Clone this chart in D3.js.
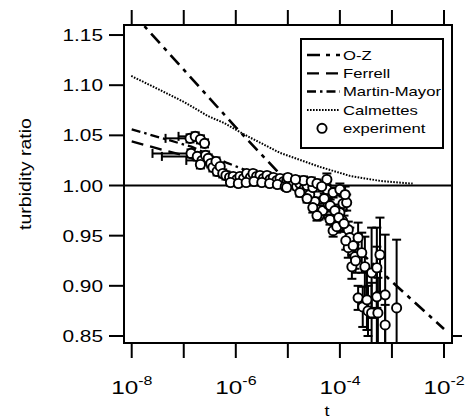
<!DOCTYPE html>
<html><head><meta charset="utf-8">
<script src="https://cdn.jsdelivr.net/npm/d3@7"></script>
<style>body{margin:0;background:#fff}svg{display:block}text{font-family:"Liberation Sans",Arial,sans-serif;fill:#000}</style>
</head><body><svg id="c" width="466" height="418"></svg>
<script>
// ---- tick values ----
const xTickDecades = [1e-8,1e-7,1e-6,1e-5,1e-4,1e-3,1e-2];
const xLabelExps = [-8,-6,-4,-2];
const yTicks = [0.85,0.90,0.95,1.00,1.05,1.10,1.15];

// ---- theory curves ----
const ozT = [1e-8,1e-7,1e-6,1e-5,1e-4,1e-3,1e-2];
const ozR = [1.173,1.1154,1.058,1.003,0.953,0.904,0.857];

const ferrellT = [1e-8,3.1e-8,1e-7,3.2e-7,1e-6,3.2e-6,1e-5,3.2e-5];
const ferrellR = [1.044,1.037,1.030,1.020,1.011,1.006,1.002,0.998];

const mmT = [1e-8,1.4e-7,6.8e-7,1.2e-6,5e-6,2e-5,3.2e-5];
const mmR = [1.056,1.0387,1.0225,1.0175,1.005,1.0,0.998];

const calT = [9.8e-9,3.5e-8,1.01e-7,2.9e-7,5.9e-7,1.64e-6,7.1e-6,4.15e-5,1.56e-4,5.9e-4,2.2e-3,2.5e-3];
const calR = [1.1092,1.0952,1.0833,1.0693,1.0624,1.0494,1.0325,1.0185,1.0096,1.0046,1.0021,1.002];

// ---- experiment ----
const expT = [1.32e-7,1.66e-7,2.09e-7,2.51e-7,1.38e-7,1.82e-7,2.24e-7,2.63e-7,2.95e-7,2.09e-7,
  3.31e-7,3.63e-7,4.17e-7,4.37e-7,5.01e-7,5.62e-7,6.46e-7,7.59e-7,8.91e-7,1.05e-6,
  1.20e-6,1.41e-6,1.62e-6,1.91e-6,2.14e-6,2.51e-6,2.92e-6,3.39e-6,3.98e-6,4.57e-6,
  5.25e-6,6.17e-6,7.08e-6,8.32e-6,9.55e-6,1.10e-5,1.26e-5,1.48e-5,1.70e-5,2.00e-5,
  2.34e-5,2.63e-5,3.02e-5,3.31e-5,3.63e-5,3.98e-5,4.68e-5,5.62e-5,5.62e-5,6.46e-5,
  7.41e-5,7.41e-5,8.71e-5,1.00e-4,1.00e-4,1.15e-4,1.35e-4,1.45e-4,1.55e-4,1.45e-4,
  1.70e-4,1.95e-4,2.24e-4,2.63e-4,3.02e-4,4.07e-4,5.13e-4,5.89e-4,2.24e-4,2.75e-4,
  3.31e-4,3.47e-4,4.07e-4,5.13e-4,5.37e-4,7.41e-4,7.41e-4,1.23e-3,
  7.9e-7,1.12e-6,1.58e-6,2.24e-6,3.16e-6,4.47e-6,6.3e-6,8.9e-6,9.5e-6,1.7e-5,2.34e-5,3.02e-5,3.63e-5,
  2.0e-5,2.82e-5,3.63e-5,4.47e-5,1.26e-4,1.12e-4,6.0e-5,
  5.0e-5,6.5e-5,8.0e-5,9.5e-5,1.2e-4,1.3e-4,1.8e-4,2.0e-4,1.0e-5,1.4e-5];
const expR = [1.047,1.049,1.046,1.042,1.032,1.029,1.025,1.030,1.027,1.021,
  1.022,1.018,1.024,1.014,1.019,1.012,1.010,1.008,1.009,1.006,
  1.009,1.007,1.012,1.008,1.012,1.009,1.010,1.007,1.010,1.006,
  1.008,1.005,1.007,1.004,1.005,1.002,1.003,0.999,1.002,0.996,
  1.000,0.991,0.998,0.984,0.976,0.970,0.975,1.006,0.996,0.966,
  0.993,0.955,0.959,0.996,0.973,0.982,0.983,0.956,0.948,0.938,
  0.919,0.929,0.948,0.933,0.919,0.913,0.918,0.931,0.888,0.879,
  0.886,0.875,0.873,0.889,0.873,0.891,0.861,0.878,
  1.003,1.002,1.003,1.004,1.003,1.002,1.001,0.999,0.998,0.993,0.987,0.978,0.970,
  1.005,1.004,1.002,0.999,0.991,0.965,0.981,
  0.987,0.980,0.975,0.968,0.962,0.945,0.940,0.925,1.008,1.006];
const expErr = [0.004,0.004,0.004,0.004,0.004,0.004,0.004,0.004,0.004,0.004,
  0.004,0.004,0.004,0.004,0.004,0.004,0.004,0.003,0.003,0.003,
  0.003,0.003,0.003,0.003,0.003,0.003,0.003,0.003,0.003,0.003,
  0.003,0.003,0.003,0.003,0.003,0.003,0.003,0.003,0.003,0.003,
  0.003,0.003,0.004,0.004,0.004,0.004,0.005,0.006,0.005,0.005,
  0.005,0.006,0.006,0.006,0.006,0.007,0.008,0.008,0.010,0.010,
  0.012,0.012,0.015,0.020,0.030,0.045,0.040,0.037,0.012,0.020,
  0.030,0.025,0.030,0.050,0.035,0.060,0.020,0.068,
  0.003,0.003,0.003,0.003,0.003,0.003,0.003,0.003,0.003,0.004,0.004,0.005,0.005,
  0.004,0.004,0.004,0.005,0.008,0.010,0.006,
  0.005,0.006,0.006,0.007,0.008,0.009,0.010,0.012,0.003,0.003];
// lower end of horizontal error bar (only for the first points)
const expTLow = [4.47e-8,7.94e-8,null,null,2.51e-8,3.80e-8,1.12e-7];

const legendNames = ["O-Z","Ferrell","Martin-Mayor","Calmettes","experiment"];

// ---- layout ----
const svg = d3.select("#c");
const L = 124, R = 452, T = 25, B = 343;
const SX = 1.28; // horizontal text stretch
const x = d3.scaleLog().domain([Math.pow(10,-8.148), Math.pow(10,-1.846)]).range([L, R]);
const y = d3.scaleLinear().domain([0.843, 1.16]).range([B, T]);

svg.append("defs").append("clipPath").attr("id","clip")
  .append("rect").attr("x",L).attr("y",T).attr("width",R-L).attr("height",B-T);

const plot = svg.append("g").attr("clip-path","url(#clip)");

// 1.00 reference line
plot.append("line").attr("x1",L).attr("x2",R).attr("y1",y(1)).attr("y2",y(1))
  .attr("stroke","#000").attr("stroke-width",2);

const line = d3.line().x(d=>x(d[0])).y(d=>y(d[1]));
const curves = [
  {t:ozT, r:ozR, dash:"13,6,4,6", w:2.6},
  {t:ferrellT, r:ferrellR, dash:"12,7", w:2.3},
  {t:mmT, r:mmR, dash:"9,4,2.5,4", w:2.3},
  {t:calT, r:calR, dash:"1.6,1.4", w:2}
];
curves.forEach(c=>{
  plot.append("path").datum(c.t.map((v,i)=>[v,c.r[i]]))
    .attr("d",line).attr("fill","none").attr("stroke","#000")
    .attr("stroke-width",c.w).attr("stroke-dasharray",c.dash);
});

// experiment data
const pts = expT.map((t,i)=>({t, r:expR[i], e:expErr[i], tl: expTLow[i]||null}));
const eb = plot.append("g").attr("stroke","#000").attr("stroke-width",2);
pts.forEach(p=>{
  const px = x(p.t), y1 = y(p.r+p.e), y2 = y(p.r-p.e);
  eb.append("line").attr("x1",px).attr("x2",px).attr("y1",y1).attr("y2",y2);
  eb.append("line").attr("x1",px-4.5).attr("x2",px+4.5).attr("y1",y1).attr("y2",y1);
  eb.append("line").attr("x1",px-4.5).attr("x2",px+4.5).attr("y1",y2).attr("y2",y2);
  if (p.tl) {
    const xl = x(p.tl), py = y(p.r);
    eb.append("line").attr("x1",xl).attr("x2",px).attr("y1",py).attr("y2",py);
    eb.append("line").attr("x1",xl).attr("x2",xl).attr("y1",py-4.5).attr("y2",py+4.5);
  }
});
plot.append("g").selectAll("circle").data(pts).join("circle")
  .attr("cx",d=>x(d.t)).attr("cy",d=>y(d.r)).attr("r",4.6)
  .attr("fill","#fff").attr("stroke","#000").attr("stroke-width",1.9);

// frame
svg.append("rect").attr("x",L).attr("y",T).attr("width",R-L).attr("height",B-T)
  .attr("fill","none").attr("stroke","#000").attr("stroke-width",2);

// ticks
const tk = svg.append("g").attr("stroke","#000").attr("stroke-width",2);
xTickDecades.forEach(v=>{
  const px = x(v);
  tk.append("line").attr("x1",px).attr("x2",px).attr("y1",B).attr("y2",B+15);
  tk.append("line").attr("x1",px).attr("x2",px).attr("y1",T).attr("y2",T-15);
});
yTicks.forEach(v=>{
  const py = y(v);
  tk.append("line").attr("x1",L).attr("x2",L-15).attr("y1",py).attr("y2",py);
});
tk.append("line").attr("x1",R).attr("x2",R+10).attr("y1",y(0.85)).attr("y2",y(0.85));

function stext(px, py, txt, size, anchor){
  return svg.append("text").attr("transform",`translate(${px},${py}) scale(${SX},1)`)
    .attr("text-anchor",anchor||"start").style("font-size",size+"px").text(txt);
}
// y tick labels
yTicks.forEach(v=> stext(103, y(v)+6, d3.format(".2f")(v), 16.3, "end"));
// x tick labels
xLabelExps.forEach(e=>{
  const g = svg.append("g").attr("transform",`translate(${x(Math.pow(10,e))},394) scale(${SX},1)`);
  const t = g.append("text").attr("x",-16).style("font-size","19px");
  t.append("tspan").text("10");
  t.append("tspan").attr("dy",-9).style("font-size","12.5px").text(String(e));
});
// axis titles
svg.append("text").attr("transform","translate(31,174) rotate(-90)")
  .attr("text-anchor","middle").style("font-size","16.5px")
  .attr("textLength",112).attr("lengthAdjust","spacingAndGlyphs").text("turbidity ratio");
stext(327, 416, "t", 14, "middle");

// legend
const lg = svg.append("g");
lg.append("rect").attr("x",301).attr("y",39).attr("width",142).attr("height",109)
  .attr("fill","#fff").attr("stroke","#000").attr("stroke-width",2);
const lgY = [55,73.3,91.5,110,128.3];
curves.forEach((c,i)=>{
  lg.append("line").attr("x1",307).attr("x2",340).attr("y1",lgY[i]).attr("y2",lgY[i])
    .attr("stroke","#000").attr("stroke-width",c.w).attr("stroke-dasharray",c.dash);
});
lg.append("circle").attr("cx",322).attr("cy",lgY[4]).attr("r",4.6)
  .attr("fill","#fff").attr("stroke","#000").attr("stroke-width",1.9);
legendNames.forEach((n,i)=> stext(343, lgY[i]+4.6, n, 13, "start"));
</script></body></html>
